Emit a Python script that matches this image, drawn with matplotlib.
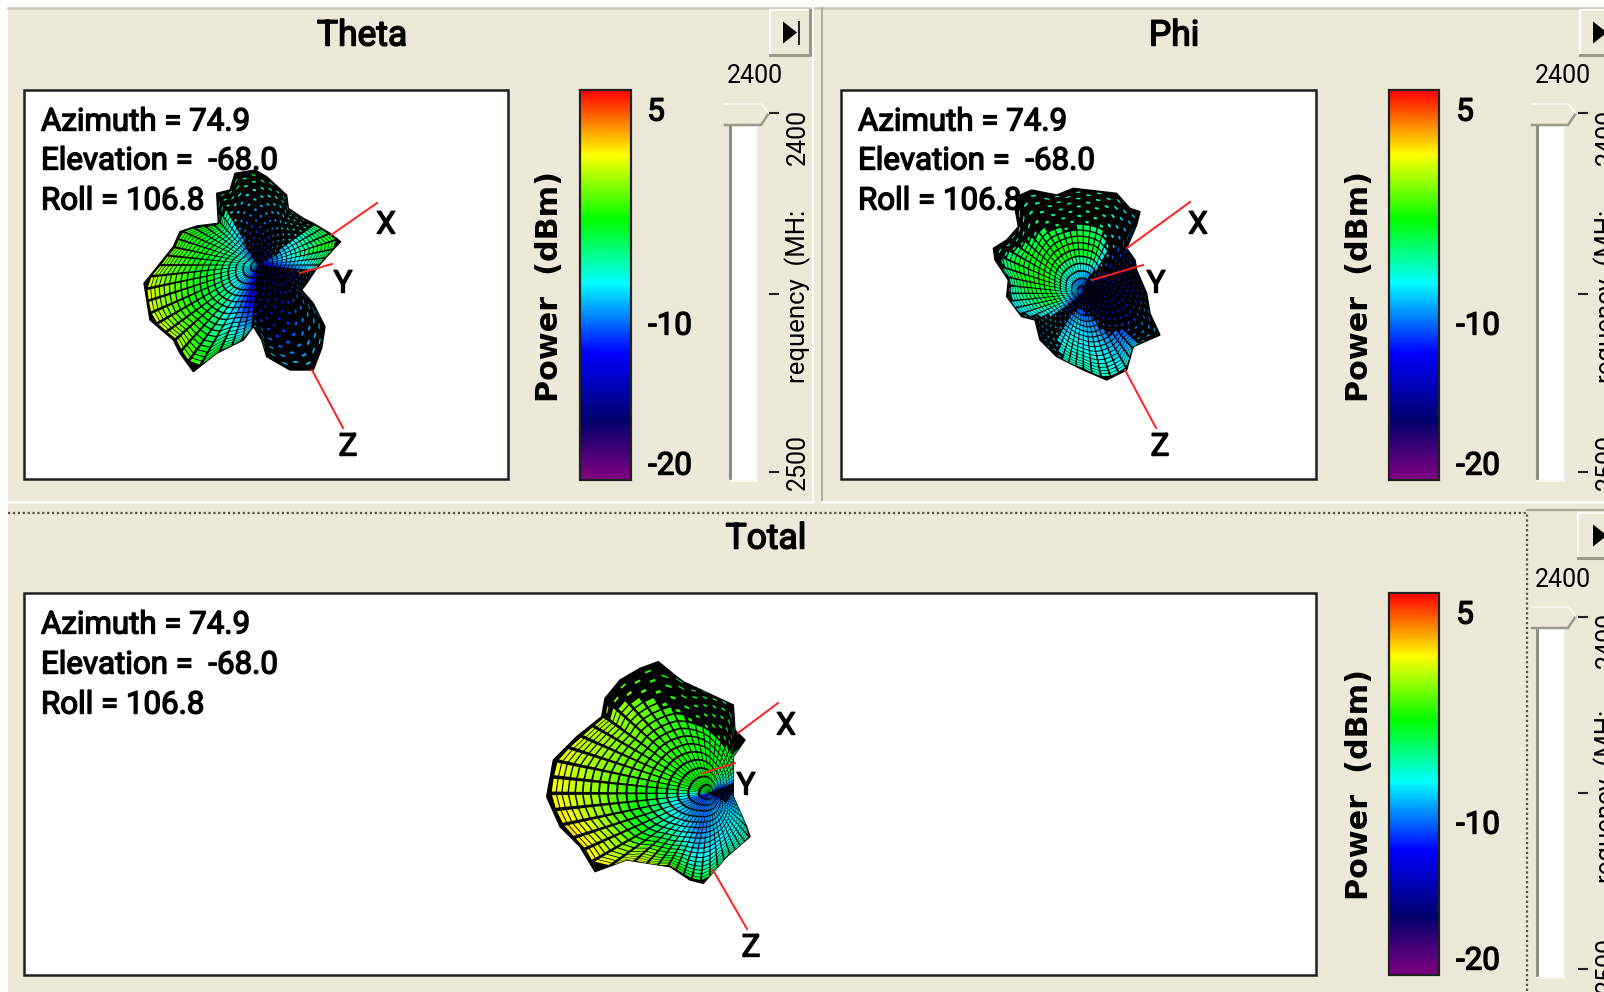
import numpy as np
import matplotlib
matplotlib.use("Agg")
import matplotlib.pyplot as plt
import matplotlib.patheffects as pe
from matplotlib.colors import LinearSegmentedColormap, Normalize
from matplotlib.collections import PolyCollection
from matplotlib.patches import Polygon, Rectangle

# scale of the colour bar
power_stops = [-21.1, -16.9, -12.2, -7.25, -2.8, 1.8, 6.3]
power_colors = ["#800080", "#00006e", "#0000ff", "#00ffff", "#00ff00", "#ffff00", "#ff0000"]
power_ticks = [5, -10, -20]
view_lines = ["Azimuth = 74.9", "Elevation =  -68.0", "Roll = 106.8"]
freq_ticks = ["2400", "2500"]

theta_outline = [(375, 90), (410, 110), (470, 165), (475, 205), (520, 235), (550, 250), (600, 280), (632, 305),
                 (590, 350), (560, 385), (530, 430), (515, 450), (550, 490), (585, 560), (575, 625), (550, 690),
                 (480, 690), (410, 650), (395, 600), (370, 560), (340, 600), (260, 640), (190, 695), (150, 640),
                 (130, 600), (60, 540), (42, 430), (90, 370), (130, 320), (150, 275), (200, 258), (265, 250),
                 (260, 160), (300, 150), (315, 100)]
phi_outline = [(180, 75), (215, 60), (290, 75), (340, 55), (470, 70), (510, 115), (540, 125), (530, 165),
               (500, 235), (525, 270), (530, 300), (560, 370), (570, 430), (600, 495), (520, 530), (500, 600),
               (440, 630), (370, 600), (290, 560), (240, 510), (225, 450), (185, 440), (140, 380), (145, 330),
               (105, 270), (100, 235), (140, 210), (175, 170), (165, 115)]
total_outline = [(385, 65), (440, 110), (460, 125), (610, 195), (615, 270), (645, 300), (610, 350), (610, 470),
                 (650, 560), (660, 590), (590, 650), (520, 730), (480, 720), (420, 680), (290, 660), (195, 695),
                 (150, 620), (90, 560), (50, 470), (70, 360), (140, 290), (215, 230), (225, 175), (270, 120),
                 (330, 85)]

# power (dBm) per 30 degree sector (15, 45, ... 345) and ring (pole to rim)
theta_power = [[-13, -7, -4, -2.5], [-12, -9, -7, -6], [-12, -11, -8, -5], [-12, -11, -8, -3],
               [-11, -7, -4, -3], [-8, -4, -2.5, -1.5], [-9, -3.5, -1, 1.5], [-11, -5, -2, 0.5],
               [-13, -12, -8, -5], [-14, -13, -11, -8], [-14, -12, -9, -8], [-14, -13, -11, -9]]
# above .6 the faces are seen whole, below it only specks between black
theta_fill = [[.7, .85, .85, .85], [.45, .45, .45, .45], [.45, .45, .5, .45], [.4, .4, .4, .4],
              [.6, .75, .8, .35], [.85, .85, .85, .85], [.85, .85, .85, .85], [.85, .85, .85, .85],
              [.5, .75, .75, .7], [.35, .35, .35, .35], [.35, .35, .35, .35], [.5, .5, .5, .5]]
phi_power = [[-14, -14, -13, -13], [-13, -12, -11, -10], [-13, -3, -6, -6], [-12, -2.5, -5, -7],
             [-11, -2.5, -4, -7], [-10, -2.5, -3, -6], [-12, -3.5, -6, -8], [-13, -11, -9, -11],
             [-13, -8, -6.5, -6], [-13, -9, -7, -6], [-14, -12, -10, -8], [-14, -13, -11, -9]]
phi_fill = [[.35, .35, .35, .35], [.4, .4, .4, .4], [.5, .85, .5, .4], [.6, .85, .4, .4],
            [.8, .85, .6, .35], [.8, .85, .85, .55], [.7, .85, .7, .6], [.5, .5, .5, .4],
            [.5, .7, .7, .6], [.5, .65, .65, .65], [.35, .5, .65, .65], [.35, .35, .35, .35]]
total_power = [[-14, -13, -12, -11], [-12, -5, -3, -3], [-3, -3, -3, -5], [-3, -2.5, -2.5, -4],
               [-3.5, -2, -0.5, 0], [-3.5, -1.5, 0, 1.5], [-12, -4, 0.5, 2.5], [-12, -7, -1, 1.5],
               [-10, -10, -7, -3], [-10, -8, -7, -5], [-12, -8, -7, -6], [-14, -11, -9, -8]]
total_fill = [[.5, .5, .5, .5], [.7, .8, .8, .8], [.85, .85, .35, .35], [.85, .85, .35, .35],
              [.85, .85, .85, .4], [.85, .85, .85, .85], [.85, .85, .85, .85], [.85, .85, .85, .85],
              [.75, .75, .75, .75], [.7, .7, .7, .7], [.7, .7, .7, .7], [.5, .5, .7, .7]]

BG = "#ece9d8"
FONT = "Roboto"
W, H = 1604, 992

value_range = (power_stops[0], power_stops[-1])
span = value_range[1] - value_range[0]
cmap = LinearSegmentedColormap.from_list(
    "power", [((v - value_range[0]) / span, c) for v, c in zip(power_stops, power_colors)], N=512)
norm = Normalize(*value_range)

fig = plt.figure(figsize=(W / 100, H / 100), dpi=100, facecolor="white")
ax = fig.add_axes([0, 0, 1, 1])


def label(x, y, s, size=22.5, stroke=1.0, rotation=0, ha="center", family=FONT, weight="normal", z=8):
    if rotation == 0:
        y = y + 3
    t = ax.text(x, y, s, fontsize=size, family=family, weight=weight, rotation=rotation, ha=ha, va="center",
                color="black", zorder=z, clip_on=False)
    if stroke:
        t.set_path_effects([pe.withStroke(linewidth=stroke, foreground="black")])
    return t


def resample(table, th, rr):
    """table is sectors x rings; th in degrees, rr 0-1, bilinear and periodic in angle"""
    table = np.array(table, dtype=float)
    n_s, n_r = table.shape
    s = ((th - 15) / 30) % n_s
    r = np.clip(rr, 0, 1) * (n_r - 1)
    s0 = np.floor(s).astype(int)
    r0 = np.minimum(np.floor(r).astype(int), n_r - 2)
    fs, fr = s - s0, r - r0
    s1 = (s0 + 1) % n_s
    a = table[s0, r0] * (1 - fr) + table[s0, r0 + 1] * fr
    b = table[s1, r0] * (1 - fr) + table[s1, r0 + 1] * fr
    return a * (1 - fs) + b * fs


def pattern(outline, origin, pole, power, fill):
    pts = np.array(outline, dtype=float) / 3 + origin
    cx, cy = np.array(pole, dtype=float) / 3 + origin
    blob = Polygon(pts, closed=True, facecolor="black", edgecolor="black", lw=1, zorder=3)
    ax.add_patch(blob)

    ang = np.degrees(np.arctan2(-(pts[:, 1] - cy), pts[:, 0] - cx)) % 360
    rad = np.hypot(pts[:, 0] - cx, pts[:, 1] - cy)
    order = np.argsort(ang)

    n_th, n_r = 60, 18
    th = np.linspace(0, 360, n_th + 1)
    rim = np.interp(th, ang[order], rad[order], period=360)
    # inner rings rounder than the rim, the rim itself keeps the outline
    ring = np.ones(9) / 9
    soft = np.convolve(np.r_[rim[-5:-1], rim, rim[1:5]], ring, mode="valid")
    lin = np.linspace(0, 1, n_r + 1)
    frac = 0.45 * lin + 0.55 * np.sin(lin * np.pi / 2)

    def radius(i, j):
        w = frac[j] ** 3
        return 0.975 * frac[j] * (soft[i] * (1 - w) + rim[i] * w)

    cells, vals = [], []
    for i in range(n_th):
        for j in range(n_r):
            tc = np.radians([th[i], th[i + 1], th[i + 1], th[i]])
            rc = np.array([radius(i, j), radius(i + 1, j), radius(i + 1, j + 1), radius(i, j + 1)])
            quad = np.column_stack([cx + rc * np.cos(tc), cy - rc * np.sin(tc)])
            mid_t = (th[i] + th[i + 1]) / 2
            mid_r = (j + 0.5) / n_r
            f = float(resample(fill, np.array(mid_t), np.array(mid_r)))
            if f >= 0.6:
                f = 0.78
            else:
                if (i + j) % 2:
                    continue
                f = 0.42
            centre = quad.mean(axis=0)
            cells.append(centre + (quad - centre) * f)
            vals.append(float(resample(power, np.array(mid_t), np.array(mid_r))))
    mesh = PolyCollection(cells, array=np.array(vals), cmap=cmap, norm=norm, edgecolors="none", zorder=4)
    ax.add_collection(mesh)
    mesh.set_clip_path(blob)


def axes_lines(x_line, y_line, z_line, x_pos, y_pos, z_pos):
    for (p, q) in (x_line, y_line, z_line):
        ax.plot([p[0], q[0]], [p[1], q[1]], color="#ff2020", lw=1.4, zorder=6)
    for pos, s in ((x_pos, "X"), (y_pos, "Y"), (z_pos, "Z")):
        label(pos[0], pos[1], s)


def plot_box(x0, y0, x1, y1, line_x, line_ys):
    ax.add_patch(Rectangle((x0, y0), x1 - x0, y1 - y0, facecolor="white", edgecolor="#202020", lw=1.8, zorder=2))
    for y, s in zip(line_ys, view_lines):
        label(line_x, y, s, ha="left")


def colorbar(x0, x1, y0, y1, power_x, power_y, tick_ys, tick_x5, tick_x):
    grad = np.linspace(value_range[1], value_range[0], 256).reshape(-1, 1)
    ax.imshow(grad, cmap=cmap, norm=norm, extent=(x0, x1, y1, y0), aspect="auto", zorder=2)
    ax.add_patch(Rectangle((x0, y0), x1 - x0, y1 - y0, fill=False, edgecolor="#202020", lw=1.6, zorder=3))
    label(power_x, power_y, "Power  (dBm)", size=21.8, stroke=0, rotation=90, family="DejaVu Sans", weight="bold")
    for v, y in zip(power_ticks, tick_ys):
        label(tick_x5 if v > 0 else tick_x, y, str(v))


def slider(x0, x1, y_thumb, y_end, top_y, label_x, tick_x, tick_ys, mid_y, freq_ys):
    ax.add_patch(Rectangle((x0, y_thumb + 21), x1 - x0, y_end - y_thumb - 21, facecolor="white", edgecolor="none", zorder=2))
    ax.plot([x0, x0], [y_thumb + 21, y_end], color="#8f8e7e", lw=2.2, zorder=3)
    ax.plot([x1 + 1, x1 + 1, x0], [y_thumb + 21, y_end + 1, y_end + 1], color="#f8f6ee", lw=1.6, zorder=3)
    ax.add_patch(Polygon([(x0 - 5, y_thumb), (x0 + 31, y_thumb), (x0 + 39, y_thumb + 9), (x0 + 31, y_thumb + 21), (x0 - 5, y_thumb + 21)],
                         closed=True, facecolor=BG, edgecolor="none", zorder=3))
    ax.plot([x0 - 5, x0 + 31, x0 + 39], [y_thumb + 21, y_thumb + 21, y_thumb + 9], color="#9b9a89", lw=1.8, zorder=4)
    ax.plot([x0 - 5, x0 + 31, x0 + 39], [y_thumb, y_thumb, y_thumb + 9], color="#f8f6ee", lw=1.4, zorder=4)
    for y in tick_ys:
        ax.plot([tick_x - 4, tick_x + 4], [y, y], color="#202020", lw=1.5, zorder=5)
    label(label_x[0], top_y, freq_ticks[0], size=18, stroke=0)
    label(label_x[1], freq_ys[0], freq_ticks[0], size=18, stroke=0, rotation=90)
    label(label_x[1], mid_y, "requency  (MH:", size=18.5, stroke=0, rotation=90)
    label(label_x[1], freq_ys[1], freq_ticks[1], size=18, stroke=0, rotation=90)


def button(x0, y0, x1, y1, tri_x, with_bar=True):
    ax.add_patch(Rectangle((x0, y0), x1 - x0, y1 - y0, facecolor=BG, edgecolor="none", zorder=2))
    ax.plot([x0, x0, x1], [y1, y0, y0], color="#fbfaf4", lw=1.6, zorder=3)
    ax.plot([x0, x1, x1], [y1, y1, y0], color="#9b9a89", lw=2.2, zorder=3)
    ym = (y0 + y1) / 2
    ax.add_patch(Polygon([(tri_x, ym - 11), (tri_x + 14, ym), (tri_x, ym + 11)], closed=True, facecolor="black", edgecolor="none", zorder=4))
    if with_bar:
        ax.plot([tri_x + 16, tri_x + 16], [ym - 11, ym + 11], color="#202020", lw=1.4, zorder=4)


# dialog background and separators
ax.add_patch(Rectangle((8, 7), W - 8, H - 7, facecolor=BG, edgecolor="none", zorder=0))
ax.plot([8, W], [8, 8], color="#c9c7b5", lw=1.8, zorder=1)
ax.plot([813, 813], [8, 500], color="#fbfaf4", lw=1.6, zorder=1)
ax.plot([822, 822], [8, 500], color="#aaa898", lw=1.3, zorder=1)
ax.plot([8, 813], [502, 502], color="#fbfaf4", lw=2, zorder=1)
ax.plot([822, W], [502, 502], color="#fbfaf4", lw=2, zorder=1)
ax.plot([1527, W], [510, 510], color="#aaa898", lw=1.6, zorder=1)
ax.plot([8, 1527, 1527], [513, 513, H], color="#55544a", lw=1.6, ls=(0, (1, 1.2)), zorder=1)

label(362, 33, "Theta", size=25.5, stroke=1.1)
label(1174, 33, "Phi", size=25.5, stroke=1.1)
label(766, 536, "Total", size=25.5, stroke=1.1)

# Theta
plot_box(24, 90, 508, 479, 41, [119, 158, 198])
pattern(theta_outline, (130, 140), (385, 375), theta_power, theta_fill)
axes_lines(((331, 235), (377, 203)), ((300, 273), (332, 264)), ((312, 370), (343, 428)), (386, 222), (343, 281), (348, 444))
colorbar(580, 631, 90, 480, 550, 286, [109, 323, 463], 656, 670)
slider(730, 756, 104, 480, 73, (755, 798), 774, [113, 294, 472], 296, (137, 462))
button(770, 10, 810, 55, 783)

# Phi
plot_box(841, 90, 1316, 479, 858, [119, 158, 198])
pattern(phi_outline, (960, 170), (370, 370), phi_power, phi_fill)
axes_lines(((1127, 248), (1190, 202)), ((1092, 280), (1143, 265)), ((1125, 370), (1156, 428)), (1198, 222), (1156, 281), (1160, 444))
colorbar(1389, 1439, 90, 480, 1359, 286, [109, 323, 463], 1465, 1478)
slider(1537, 1563, 104, 480, 73, (1563, 1607), 1583, [113, 294, 472], 296, (137, 462))
button(1580, 10, 1612, 55, 1593, with_bar=False)

# Total
plot_box(24, 593, 1316, 975, 41, [622, 662, 702])
pattern(total_outline, (530, 640), (540, 460), total_power, total_fill)
axes_lines(((738, 733), (778, 703)), ((703, 773), (735, 763)), ((713, 870), (747, 929)), (786, 723), (746, 783), (751, 945))
colorbar(1389, 1439, 593, 975, 1359, 785, [612, 822, 958], 1465, 1478)
slider(1537, 1563, 607, 977, 577, (1563, 1607), 1583, [617, 793, 969], 796, (640, 965))
button(1578, 513, 1612, 558, 1593, with_bar=False)

ax.set_xlim(0, W)
ax.set_ylim(H, 0)
ax.axis("off")
fig.savefig("out.png", dpi=100, facecolor="white")
